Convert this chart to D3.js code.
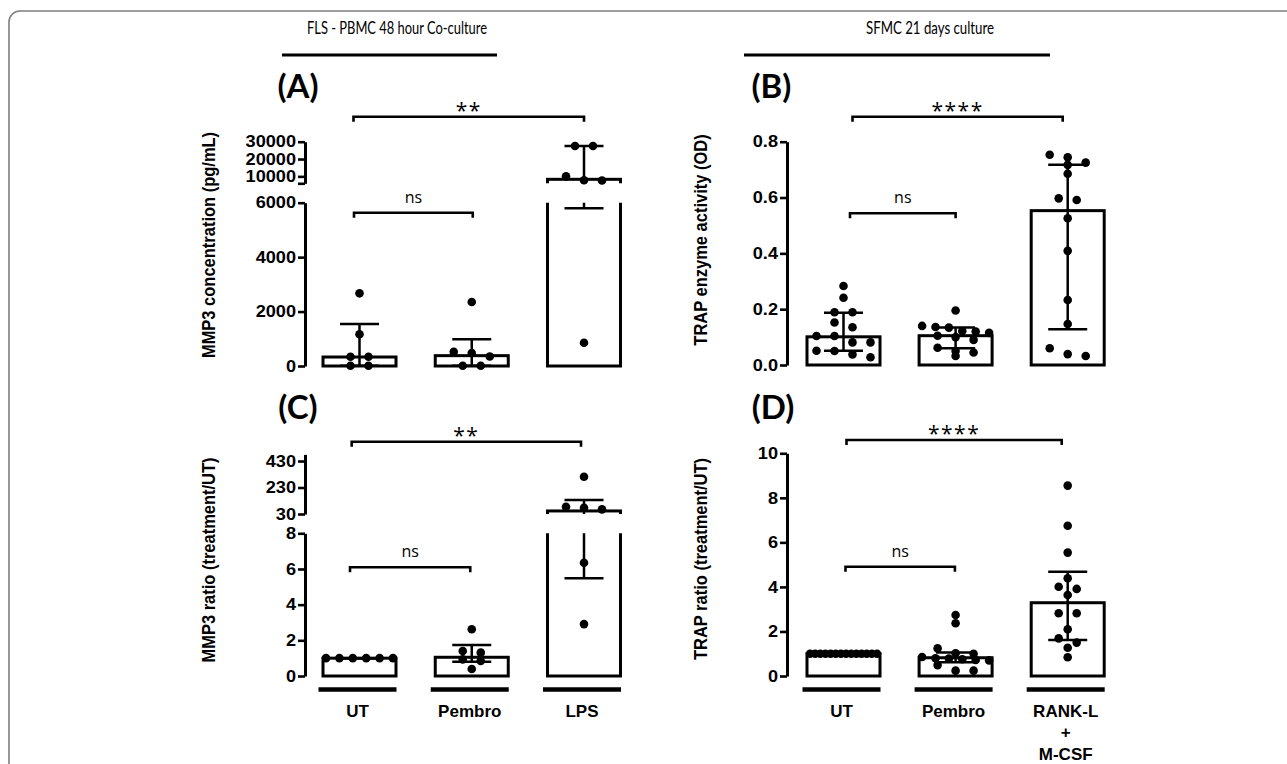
<!DOCTYPE html>
<html>
<head>
<meta charset="utf-8">
<title>MMP3 and TRAP</title>
<script src="https://cdn.jsdelivr.net/npm/d3@7"></script>
<style>
  body { margin: 0; background: #fff; }
  svg { display: block; }
  .tick text { font: bold 16.5px "Liberation Sans", Arial, sans-serif; }
  .yLabel { font: bold 16.5px "Liberation Sans", Arial, sans-serif; }
  .catLabel { font: bold 17px "Liberation Sans", Arial, sans-serif; }
  .panelTag { font: bold 33px Lato, sans-serif; }
  .header { font: 17px Lato, sans-serif; }
  .sig { font: 21px "Open Sans", sans-serif; letter-spacing: 1.5px; }
  .ns { font: 16px "Open Sans", sans-serif; }
</style>
</head>
<body>
<script>
// ---- data ----
const mmp3Groups = ["UT", "Pembro", "LPS"];
const trapGroups = ["UT", "Pembro", "RANK-L\n+\nM-CSF"];

// (A) MMP3 concentration (pg/mL)
const mmp3ConcUT = [2670, 1165, 340, 340, 10, 10];
const mmp3ConcPembro = [2350, 520, 480, 350, 10, 10];
const mmp3ConcLPS = [27500, 27500, 10000, 7800, 7600, 857];
const mmp3ConcMedian = [330, 380, 8300];
const mmp3ConcQ1 = [10, 10, 5800];
const mmp3ConcQ3 = [1545, 980, 27500];

// (B) TRAP enzyme activity (OD)
const trapOdUT = [0.283, 0.241, 0.189, 0.189, 0.152, 0.135, 0.104, 0.104, 0.081, 0.081, 0.051, 0.05, 0.038, 0.028];
const trapOdPembro = [0.195, 0.14, 0.136, 0.134, 0.122, 0.12, 0.115, 0.105, 0.1, 0.09, 0.062, 0.05, 0.045, 0.032];
const trapOdRank = [0.753, 0.744, 0.725, 0.717, 0.685, 0.597, 0.591, 0.526, 0.409, 0.233, 0.147, 0.06, 0.039, 0.032];
const trapOdMedian = [0.101, 0.105, 0.553];
const trapOdQ1 = [0.051, 0.06, 0.128];
const trapOdQ3 = [0.187, 0.134, 0.717];

// (C) MMP3 ratio (treatment/UT)
const mmp3RatioUT = [1, 1, 1, 1, 1, 1];
const mmp3RatioPembro = [2.62, 1.4, 1.31, 0.93, 0.84, 0.39];
const mmp3RatioLPS = [311, 85, 77.5, 65, 6.35, 2.91];
const mmp3RatioMedian = [1, 1.05, 53];
const mmp3RatioQ1 = [1, 0.8, 5.48];
const mmp3RatioQ3 = [1, 1.74, 135];

// (D) TRAP ratio (treatment/UT)
const trapRatioUT = [1, 1, 1, 1, 1, 1, 1, 1, 1, 1, 1, 1, 1, 1];
const trapRatioPembro = [2.74, 2.37, 1.24, 1.02, 1.0, 0.85, 0.8, 0.78, 0.75, 0.72, 0.7, 0.49, 0.24, 0.24];
const trapRatioRank = [8.55, 6.75, 5.54, 4.39, 4.01, 3.91, 3.64, 2.82, 2.82, 2.1, 1.69, 1.5, 1.27, 0.84];
const trapRatioMedian = [1, 0.82, 3.29];
const trapRatioQ1 = [1, 0.62, 1.62];
const trapRatioQ3 = [1, 1.05, 4.68];

// axis ticks
const mmp3ConcTicksLow = [0, 2000, 4000, 6000];
const mmp3ConcTicksHigh = [6000, 10000, 20000, 30000];
const trapOdTicks = [0, 0.2, 0.4, 0.6, 0.8];
const mmp3RatioTicksLow = [0, 2, 4, 6, 8];
const mmp3RatioTicksHigh = [30, 230, 430];
const trapRatioTicks = [0, 2, 4, 6, 8, 10];

// ---- drawing ----
const W = 1287, H = 764;
const svg = d3.select("body").append("svg").attr("width", W).attr("height", H);

// outer frame (runs off the right and bottom edges)
svg.append("rect")
  .attr("x", 9).attr("y", 11).attr("width", W + 40).attr("height", H + 40)
  .attr("rx", 11).attr("fill", "none").attr("stroke", "#7f7f7f").attr("stroke-width", 1.6);

// section headers
[["FLS - PBMC 48 hour Co-culture", 397, 282, 497, 180], ["SFMC 21 days culture", 930, 744, 1050, 128]]
  .forEach(([t, cx, x0, x1, len]) => {
    svg.append("text").attr("class", "header").attr("x", cx).attr("y", 33.5)
      .attr("text-anchor", "middle")
      .attr("textLength", len).attr("lengthAdjust", "spacingAndGlyphs")
      .text(t);
    svg.append("line").attr("x1", x0).attr("x2", x1).attr("y1", 55).attr("y2", 55)
      .attr("stroke", "#000").attr("stroke-width", 3);
  });

let clipId = 0;

function swarm(values, yOf, cx) {
  const pts = values.map(v => ({ v, y: yOf(v) })).sort((a, b) => a.y - b.y);
  const rows = [];
  pts.forEach(p => {
    const row = rows[rows.length - 1];
    if (row && p.y - row[0].y < 8) row.push(p); else rows.push([p]);
  });
  rows.forEach(row => {
    const n = row.length, step = n > 1 ? Math.min(18, 67 / (n - 1)) : 0;
    row.forEach((p, i) => p.x = cx + (i - (n - 1) / 2) * step);
  });
  return pts;
}

function drawPanel(p) {
  const g = svg.append("g");
  const x = d3.scalePoint().domain(p.groups).range(p.xRange);
  const segs = p.segments.map(s => Object.assign({}, s, {
    scale: d3.scaleLinear().domain(s.domain).range(s.range)
  }));
  const segOf = v => Math.max(0, segs.findIndex(s => v >= s.domain[0] && v <= s.domain[1]));
  const yOf = v => segs[segOf(v)].scale(v);
  const bw = 73, capW = 39;

  segs.forEach((s, i) => {
    const id = "clip" + (clipId++);
    const top = i < segs.length - 1 ? s.range[1] : s.range[1] - 80;
    const bot = i > 0 ? s.range[0] : s.range[0] + 10;
    g.append("clipPath").attr("id", id).append("rect")
      .attr("x", 0).attr("y", top).attr("width", W).attr("height", bot - top);
    const cg = g.append("g").attr("clip-path", `url(#${id})`);

    p.groups.forEach((grp, k) => {
      const cx = x(grp);
      cg.append("rect")
        .attr("x", cx - bw / 2).attr("width", bw)
        .attr("y", s.scale(p.median[k]))
        .attr("height", s.scale(0) - s.scale(p.median[k]))
        .attr("fill", "#fff").attr("stroke", "#000").attr("stroke-width", 3);
      cg.append("line")
        .attr("x1", cx).attr("x2", cx)
        .attr("y1", s.scale(p.q1[k])).attr("y2", s.scale(p.q3[k]))
        .attr("stroke", "#000").attr("stroke-width", 2.5);
    });
    // caps drawn in the segment that owns the value
    p.groups.forEach((grp, k) => {
      const cx = x(grp);
      [p.q1[k], p.q3[k]].forEach(v => {
        if (segOf(v) !== i) return;
        g.append("line")
          .attr("x1", cx - capW / 2).attr("x2", cx + capW / 2)
          .attr("y1", s.scale(v)).attr("y2", s.scale(v))
          .attr("stroke", "#000").attr("stroke-width", 2.5);
      });
    });

    const ax = g.append("g")
      .attr("transform", `translate(${p.axisX},0)`)
      .call(d3.axisLeft(s.scale)
        .tickValues(s.ticks)
        .tickFormat(v => (s.hide || []).includes(v) ? "" : (s.fmt ? d3.format(s.fmt)(v) : v))
        .tickSize(7).tickSizeOuter(0).tickPadding(2));
    ax.select(".domain").attr("stroke-width", 3);
    ax.selectAll(".tick line").attr("stroke-width", 2.6);
    ax.selectAll(".tick text").each(function () {
      const t = d3.select(this);
      const tx = +t.attr("x");
      t.attr("x", 0).attr("transform", `translate(${tx},0) scale(1.1,1)`);
    });
  });

  // dots
  p.groups.forEach((grp, k) => {
    swarm(p.values[k], yOf, x(grp)).forEach(d => {
      g.append("circle").attr("cx", d.x).attr("cy", d.y).attr("r", 4.3).attr("fill", "#000");
    });
  });

  // significance brackets
  p.brackets.forEach(b => {
    const x0 = x(p.groups[b.from]) + b.dx0, x1 = x(p.groups[b.to]) + b.dx1;
    g.append("path")
      .attr("d", `M${x0},${b.y + 5}V${b.y}H${x1}V${b.y + 5}`)
      .attr("fill", "none").attr("stroke", "#000").attr("stroke-width", 2.6);
    g.append("text")
      .attr("class", b.text === "ns" ? "ns" : "sig")
      .attr("x", (x0 + x1) / 2).attr("y", b.text === "ns" ? b.y - 10 : b.y + 1)
      .attr("text-anchor", "middle").text(b.text);
  });

  // panel tag
  g.append("text").attr("class", "panelTag")
    .attr("x", p.tag[1]).attr("y", p.tag[2]).attr("text-anchor", "middle").text(p.tag[0]);

  // y label
  g.append("text").attr("class", "yLabel")
    .attr("transform", `translate(${p.yLabel[1]},${p.yLabel[2]}) rotate(-90) scale(1,1.1)`)
    .attr("text-anchor", "middle").text(p.yLabel[0]);

  // category axis (bottom row only)
  if (p.xAxisY) {
    p.groups.forEach(grp => {
      const cx = x(grp);
      g.append("line")
        .attr("x1", cx - 41).attr("x2", cx + 37)
        .attr("y1", p.xAxisY).attr("y2", p.xAxisY)
        .attr("stroke", "#000").attr("stroke-width", 4.5);
      grp.split("\n").forEach((line, j) => {
        g.append("text").attr("class", "catLabel")
          .attr("x", cx - 2).attr("y", p.xAxisY + 27 + j * 21.5)
          .attr("text-anchor", "middle").text(line);
      });
    });
  }
}

drawPanel({
  groups: mmp3Groups, xRange: [359.5, 584], axisX: 305,
  segments: [
    { domain: [0, 6000], range: [366, 202.7], ticks: mmp3ConcTicksLow },
    { domain: [6000, 30000], range: [183.3, 141.7], ticks: mmp3ConcTicksHigh, hide: [6000] }
  ],
  values: [mmp3ConcUT, mmp3ConcPembro, mmp3ConcLPS],
  median: mmp3ConcMedian, q1: mmp3ConcQ1, q3: mmp3ConcQ3,
  brackets: [
    { from: 0, to: 1, y: 212.7, dx0: -5.5, dx1: 1, text: "ns" },
    { from: 0, to: 2, y: 116.7, dx0: -6, dx1: 0, text: "**" }
  ],
  tag: ["(A)", 298, 98],
  yLabel: ["MMP3 concentration (pg/mL)", 215, 245]
});

drawPanel({
  groups: trapGroups, xRange: [843.5, 1067.7], axisX: 787,
  segments: [
    { domain: [0, 0.8], range: [365, 141.7], ticks: trapOdTicks, fmt: ".1f" }
  ],
  values: [trapOdUT, trapOdPembro, trapOdRank],
  median: trapOdMedian, q1: trapOdQ1, q3: trapOdQ3,
  brackets: [
    { from: 0, to: 1, y: 213.3, dx0: 6.5, dx1: 0, text: "ns" },
    { from: 0, to: 2, y: 116.7, dx0: 9, dx1: -5, text: "****" }
  ],
  tag: ["(B)", 771.5, 98],
  yLabel: ["TRAP enzyme activity (OD)", 707, 240]
});

drawPanel({
  groups: mmp3Groups, xRange: [359.5, 584], axisX: 305,
  segments: [
    { domain: [0, 8], range: [676, 533.3], ticks: mmp3RatioTicksLow },
    { domain: [30, 480], range: [514, 454.4], ticks: mmp3RatioTicksHigh }
  ],
  values: [mmp3RatioUT, mmp3RatioPembro, mmp3RatioLPS],
  median: mmp3RatioMedian, q1: mmp3RatioQ1, q3: mmp3RatioQ3,
  brackets: [
    { from: 0, to: 1, y: 567.3, dx0: -9.5, dx1: -1.5, text: "ns" },
    { from: 0, to: 2, y: 441.7, dx0: -7.8, dx1: -3, text: "**" }
  ],
  tag: ["(C)", 298, 419],
  yLabel: ["MMP3 ratio (treatment/UT)", 215, 560],
  xAxisY: 689.5
});

drawPanel({
  groups: trapGroups, xRange: [843.5, 1067.7], axisX: 787,
  segments: [
    { domain: [0, 10], range: [676, 453.3], ticks: trapRatioTicks }
  ],
  values: [trapRatioUT, trapRatioPembro, trapRatioRank],
  median: trapRatioMedian, q1: trapRatioQ1, q3: trapRatioQ3,
  brackets: [
    { from: 0, to: 1, y: 566.7, dx0: 2, dx1: -0.7, text: "ns" },
    { from: 0, to: 2, y: 440, dx0: 3, dx1: -6, text: "****" }
  ],
  tag: ["(D)", 773, 419],
  yLabel: ["TRAP ratio (treatment/UT)", 707, 559],
  xAxisY: 689.5
});
</script>
</body>
</html>
